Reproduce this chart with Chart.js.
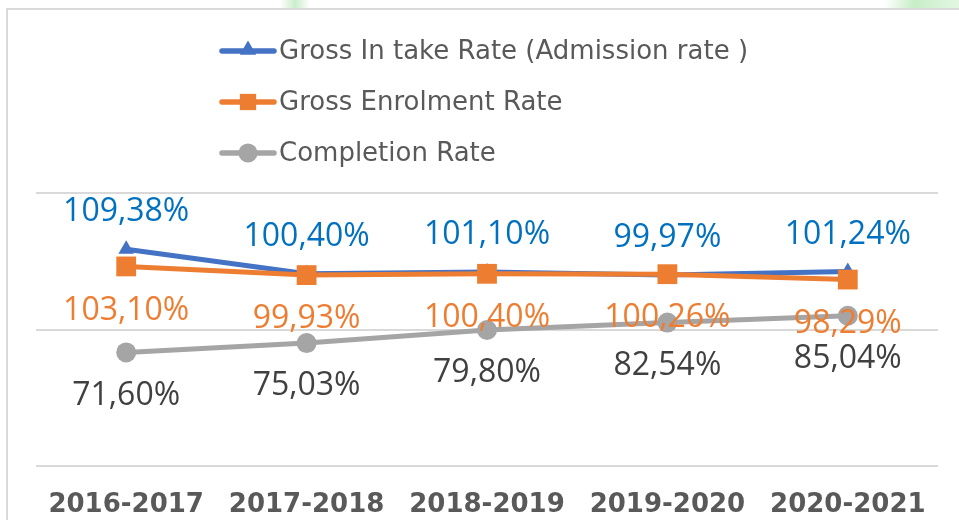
<!DOCTYPE html>
<html>
<head>
<meta charset="utf-8">
<script src="https://cdn.jsdelivr.net/npm/chart.js@4/dist/chart.umd.min.js"></script>
<style>
  html, body { margin: 0; padding: 0; background: #fff; }
  body { width: 959px; height: 520px; position: relative; overflow: hidden; }
  #frame { position: absolute; left: 6px; top: 8px; width: 980px; height: 540px;
           border-left: 2px solid #d9d9d9; border-top: 2px solid #d9d9d9; }
  #leaf1 { position: absolute; left: 280px; top: 0; width: 30px; height: 8px;
           background: linear-gradient(90deg, rgba(190,235,190,0), rgba(170,225,170,0.6), rgba(190,235,190,0)); }
  #leaf2 { position: absolute; left: 885px; top: 0; width: 74px; height: 8px;
           background: linear-gradient(100deg, rgba(200,240,200,0) 0%, rgba(175,230,175,0.7) 40%, rgba(200,240,200,0.5) 100%); }
  canvas { position: absolute; left: 0; top: 0; }
</style>
</head>
<body>
<div id="leaf1"></div>
<div id="leaf2"></div>
<div id="frame"></div>
<canvas id="rateChart" width="959" height="520"></canvas>
<script>
// Data
const categories = ['2016-2017', '2017-2018', '2018-2019', '2019-2020', '2020-2021'];
const intakeRate = [109.38, 100.40, 101.10, 99.97, 101.24];
const enrolmentRate = [103.10, 99.93, 100.40, 100.26, 98.29];
const completionRate = [71.60, 75.03, 79.80, 82.54, 85.04];
const seriesNames = ['Gross In take Rate (Admission rate )', 'Gross Enrolment Rate', 'Completion Rate'];
const yMin = 30;
const yMax = 130;
const yStep = 50;

const BLUE = '#4472C4';
const ORANGE = '#ED7D31';
const GRAY = '#A5A5A5';

function formatRate(v) {
  return v.toFixed(2).replace('.', ',') + '%';
}

// Value labels drawn next to each point
const valueLabels = {
  id: 'valueLabels',
  afterDatasetsDraw(chart) {
    const ctx = chart.ctx;
    ctx.save();
    ctx.font = '32px "Open Sans", "Noto Sans", sans-serif';
    ctx.textAlign = 'center';
    ctx.textBaseline = 'middle';
    chart.data.datasets.forEach((ds, i) => {
      const meta = chart.getDatasetMeta(i);
      ctx.fillStyle = ds.labelColor;
      meta.data.forEach((pt, j) => {
        ctx.fillText(formatRate(ds.data[j]), pt.x, pt.y + ds.labelOffset);
      });
    });
    ctx.restore();
  }
};

// Legend with line + marker like the original
const lineLegend = {
  id: 'lineLegend',
  afterDraw(chart) {
    const ctx = chart.ctx;
    const rows = [51, 102, 153];
    ctx.save();
    chart.data.datasets.forEach((ds, i) => {
      const y = rows[i];
      ctx.strokeStyle = ds.borderColor;
      ctx.lineWidth = 5.5;
      ctx.lineCap = 'round';
      ctx.beginPath();
      ctx.moveTo(222, y);
      ctx.lineTo(274, y);
      ctx.stroke();
      ctx.fillStyle = ds.backgroundColor;
      Chart.helpers.drawPoint(ctx, {
        pointStyle: ds.pointStyle,
        radius: ds.pointStyle === 'rect' ? 11.5 : 9.5,
        borderWidth: 0
      }, 248, ds.pointStyle === 'triangle' ? y - 1 : y);
      ctx.fillStyle = '#595959';
      ctx.font = '26px "DejaVu Sans", sans-serif';
      ctx.textAlign = 'left';
      ctx.textBaseline = 'middle';
      ctx.fillText(ds.label, 279, y + 1.5);
    });
    ctx.restore();
  }
};

new Chart(document.getElementById('rateChart'), {
  type: 'line',
  data: {
    labels: categories,
    datasets: [{
      label: seriesNames[0],
      data: intakeRate,
      borderColor: BLUE,
      backgroundColor: BLUE,
      borderWidth: 5,
      pointStyle: 'triangle',
      pointRadius: 9,
      pointBorderWidth: 0,
      labelColor: '#0070C0',
      labelOffset: -37,
      order: 2
    }, {
      label: seriesNames[1],
      data: enrolmentRate,
      borderColor: ORANGE,
      backgroundColor: ORANGE,
      borderWidth: 5,
      pointStyle: 'rect',
      pointRadius: 14,
      pointBorderWidth: 0,
      labelColor: '#ED7D31',
      labelOffset: 44,
      order: 1
    }, {
      label: seriesNames[2],
      data: completionRate,
      borderColor: GRAY,
      backgroundColor: GRAY,
      borderWidth: 5,
      pointStyle: 'circle',
      pointRadius: 10,
      pointBorderWidth: 0,
      labelColor: '#404040',
      labelOffset: 43,
      order: 3
    }]
  },
  options: {
    responsive: false,
    animation: false,
    layout: { padding: { top: 193, left: 36, right: 21, bottom: 0 } },
    plugins: {
      legend: { display: false },
      tooltip: { enabled: false }
    },
    scales: {
      x: {
        offset: true,
        grid: { display: false, drawTicks: false },
        border: { display: false },
        afterFit(scale) { scale.height = 54; },
        ticks: {
          color: '#595959',
          padding: 24,
          font: { family: '"DejaVu Sans", sans-serif', size: 26, weight: 'bold' }
        }
      },
      y: {
        min: yMin,
        max: yMax,
        ticks: { display: false, stepSize: yStep },
        grid: { color: '#d9d9d9', lineWidth: 2, drawTicks: false },
        border: { display: false }
      }
    }
  },
  plugins: [valueLabels, lineLegend]
});
</script>
</body>
</html>
